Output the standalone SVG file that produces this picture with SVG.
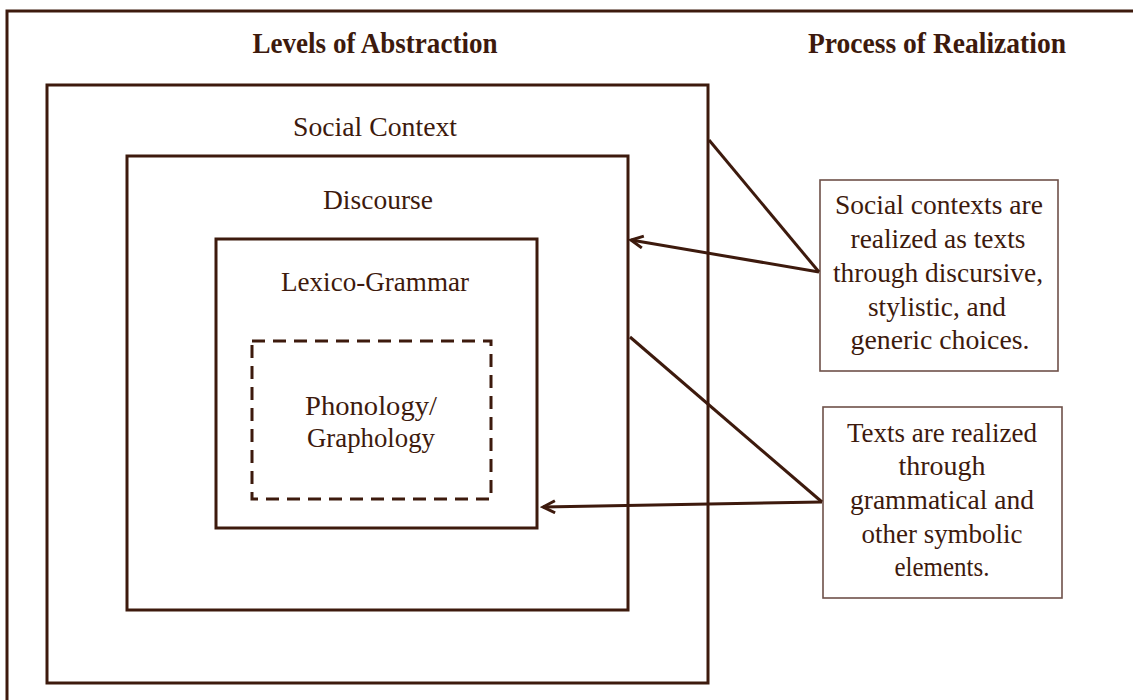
<svg xmlns="http://www.w3.org/2000/svg" width="1133" height="700" viewBox="0 0 1133 700">
<style>
.frame{fill:none;stroke:#3d1a0d;stroke-width:3}
.box{fill:none;stroke:#3d1a0d;stroke-width:3}
.dash{fill:none;stroke:#3d1a0d;stroke-width:3;stroke-dasharray:13 8}
.note{fill:#fff;stroke:#6e5149;stroke-width:1.6}
.conn{fill:none;stroke:#3d1a0d;stroke-width:3}
text{font-family:"Liberation Serif","Times New Roman",serif;fill:#3d1a0d;text-anchor:middle}
.h{font-weight:bold;font-size:29px}
.l{font-size:27px}
</style>
<defs>
<marker id="arr" markerWidth="16" markerHeight="16" refX="13" refY="7" orient="auto" markerUnits="userSpaceOnUse">
<path d="M1,1 L13,7 L1,13" fill="none" stroke="#3d1a0d" stroke-width="3"/>
</marker>
</defs>
<rect width="1133" height="700" fill="#fff"/>
<path class="frame" d="M7,720 L7,11 L1140,11"/>
<text class="h" x="375" y="53" textLength="245" lengthAdjust="spacingAndGlyphs">Levels of Abstraction</text>
<text class="h" x="937" y="53" textLength="258" lengthAdjust="spacingAndGlyphs">Process of Realization</text>
<g id="social-context">
<rect class="box" x="47" y="85" width="661" height="598"/>
<text class="l" x="375" y="136" textLength="164" lengthAdjust="spacingAndGlyphs">Social Context</text>
</g>
<g id="discourse">
<rect class="box" x="127" y="156" width="501" height="454"/>
<text class="l" x="378" y="209" textLength="110" lengthAdjust="spacingAndGlyphs">Discourse</text>
</g>
<g id="lexico-grammar">
<rect class="box" x="216" y="239" width="321" height="289"/>
<text class="l" x="375" y="291" textLength="188" lengthAdjust="spacingAndGlyphs">Lexico-Grammar</text>
</g>
<g id="phonology">
<rect class="dash" x="252" y="341" width="239" height="158"/>
<text class="l" x="371" y="415" textLength="132" lengthAdjust="spacingAndGlyphs">Phonology/</text>
<text class="l" x="371" y="447" textLength="128" lengthAdjust="spacingAndGlyphs">Graphology</text>
</g>
<g id="note-social">
<rect class="note" x="820" y="180" width="238" height="191"/>
<text class="l" x="939" y="214" textLength="208" lengthAdjust="spacingAndGlyphs">Social contexts are</text>
<text class="l" x="938" y="248" textLength="175" lengthAdjust="spacingAndGlyphs">realized as texts</text>
<text class="l" x="938" y="282" textLength="210" lengthAdjust="spacingAndGlyphs">through discursive,</text>
<text class="l" x="937" y="316" textLength="138" lengthAdjust="spacingAndGlyphs">stylistic, and</text>
<text class="l" x="940" y="349" textLength="179" lengthAdjust="spacingAndGlyphs">generic choices.</text>
</g>
<g id="note-texts">
<rect class="note" x="823" y="407" width="239" height="191"/>
<text class="l" x="942" y="442" textLength="190" lengthAdjust="spacingAndGlyphs">Texts are realized</text>
<text class="l" x="942" y="475" textLength="87" lengthAdjust="spacingAndGlyphs">through</text>
<text class="l" x="942" y="509" textLength="184" lengthAdjust="spacingAndGlyphs">grammatical  and</text>
<text class="l" x="942" y="543" textLength="161" lengthAdjust="spacingAndGlyphs">other symbolic</text>
<text class="l" x="942" y="576" textLength="95" lengthAdjust="spacingAndGlyphs">elements.</text>
</g>
<g id="connectors">
<path class="conn" d="M709,140 L819,272"/>
<path class="conn" d="M819,272 L631,240" marker-end="url(#arr)"/>
<path class="conn" d="M630,337 L822,502"/>
<path class="conn" d="M822,502 L543,507" marker-end="url(#arr)"/>
</g>
</svg>
